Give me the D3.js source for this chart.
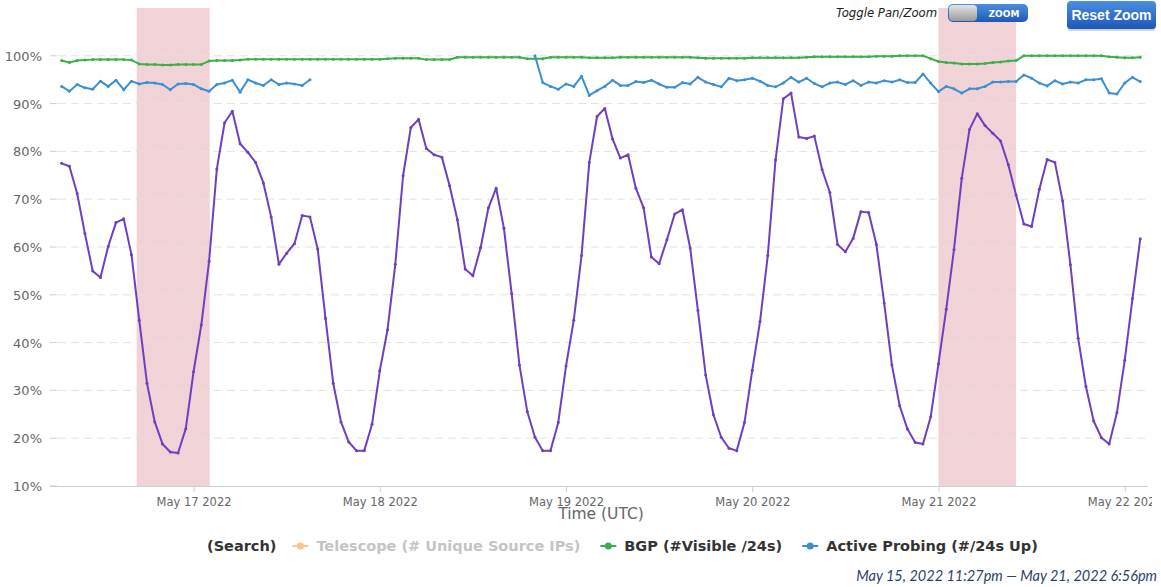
<!DOCTYPE html>
<html>
<head>
<meta charset="utf-8">
<script src="https://cdn.jsdelivr.net/npm/d3@7"></script>
<style>
  body { margin: 0; background: #fff; }
  svg { display: block; }
</style>
</head>
<body>
<div id="chart"></div>
<script>
const width = 1161;
const height = 587;

// hourly samples, first one at May 16 2022 07:00 UTC
const startTime = Date.UTC(2022, 4, 16, 7);

const searchValues = [
  77.5, 76.9, 71.2, 62.8, 55.0, 53.6, 60.1, 65.1, 65.9, 58.4,
  44.7, 31.5, 23.4, 18.8, 17.1, 16.9, 22.0, 33.9, 43.7, 57.0,
  76.3, 86.0, 88.4, 81.6, 79.8, 77.7, 73.4, 66.3, 56.4, 58.7,
  60.7, 66.6, 66.3, 59.6, 45.1, 31.5, 23.4, 19.2, 17.4, 17.4,
  22.9, 34.1, 42.7, 56.4, 74.9, 85.0, 86.7, 80.6, 79.3, 78.8,
  72.8, 65.7, 55.4, 54.0, 59.9, 68.2, 72.3, 63.9, 50.2, 35.3,
  25.6, 20.2, 17.4, 17.4, 23.3, 35.1, 44.7, 58.2, 77.7, 87.3,
  89.0, 82.6, 78.6, 79.3, 72.3, 68.2, 57.9, 56.5, 61.5, 66.9,
  67.8, 59.8, 46.7, 33.2, 24.9, 20.2, 17.9, 17.4, 23.3, 34.2,
  44.4, 58.2, 78.2, 91.0, 92.2, 83.0, 82.7, 83.2, 76.2, 71.4,
  60.5, 59.0, 61.8, 67.4, 67.2, 60.5, 48.3, 35.3, 26.8, 21.9,
  19.1, 18.8, 24.5, 35.6, 47.0, 59.5, 74.4, 84.6, 87.9, 85.4,
  83.8, 82.2, 77.2, 70.9, 64.8, 64.3, 72.1, 78.3, 77.7, 69.6,
  56.3, 40.9, 30.8, 23.6, 20.1, 18.8, 25.4, 36.3, 49.2, 61.7
];

const bgpValues = [
  99.0, 98.6, 99.0, 99.1, 99.2, 99.2, 99.2, 99.2, 99.2, 99.1,
  98.3, 98.2, 98.2, 98.1, 98.1, 98.2, 98.2, 98.2, 98.2, 98.9,
  99.0, 99.0, 99.0, 99.1, 99.3, 99.3, 99.3, 99.3, 99.3, 99.3,
  99.3, 99.3, 99.3, 99.3, 99.3, 99.3, 99.3, 99.3, 99.3, 99.3,
  99.3, 99.3, 99.4, 99.5, 99.5, 99.5, 99.5, 99.2, 99.2, 99.2,
  99.2, 99.7, 99.7, 99.7, 99.7, 99.7, 99.7, 99.7, 99.7, 99.7,
  99.4, 99.4, 99.4, 99.7, 99.7, 99.7, 99.7, 99.7, 99.6, 99.6,
  99.6, 99.6, 99.7, 99.7, 99.7, 99.7, 99.7, 99.7, 99.7, 99.7,
  99.7, 99.7, 99.6, 99.5, 99.5, 99.5, 99.5, 99.5, 99.5, 99.6,
  99.6, 99.6, 99.6, 99.6, 99.6, 99.6, 99.7, 99.8, 99.8, 99.8,
  99.8, 99.8, 99.8, 99.8, 99.8, 99.9, 99.9, 99.9, 100.0, 100.0,
  100.0, 100.0, 99.4, 98.8, 98.6, 98.5, 98.3, 98.3, 98.3, 98.4,
  98.6, 98.7, 98.9, 99.0, 100.0, 100.0, 100.0, 100.0, 100.0, 100.0,
  100.0, 100.0, 100.0, 100.0, 100.0, 99.8, 99.7, 99.6, 99.6, 99.7
];

const probingValues = [
  93.6, 92.6, 94.0, 93.3, 93.0, 94.7, 93.6, 94.9, 92.9, 94.7,
  94.1, 94.4, 94.3, 94.0, 92.9, 94.1, 94.2, 94.0, 93.1, 92.6,
  94.0, 94.3, 94.9, 92.4, 95.0, 94.3, 93.8, 95.0, 94.0, 94.3,
  94.1, 93.8, 95.0, null, null, null, null, null, null, null,
  null, null, null, null, null, null, null, null, null, null,
  null, null, null, null, null, null, null, null, null, null,
  null, 100.0, 94.4, 93.6, 93.0, 94.1, 93.6, 95.7, 91.7, 92.7,
  93.6, 94.9, 93.8, 93.8, 94.6, 94.4, 94.9, 94.1, 93.4, 93.4,
  94.4, 94.1, 95.5, 94.5, 94.0, 93.5, 95.3, 94.8, 95.0, 95.3,
  94.7, 93.8, 93.5, 94.3, 95.5, 94.5, 95.3, 94.2, 93.5, 94.3,
  94.5, 94.0, 94.8, 93.8, 94.5, 94.3, 94.8, 94.5, 95.0, 94.4,
  94.4, 96.2, 94.3, 92.5, 93.6, 93.1, 92.2, 93.1, 93.1, 93.6,
  94.5, 94.5, 94.6, 94.6, 96.0, 95.3, 94.3, 93.7, 94.8, 94.1,
  94.5, 94.3, 95.0, 95.0, 95.2, 92.2, 92.0, 94.3, 95.5, 94.6
];

// outage alert bands
const bandStarts = [Date.UTC(2022, 4, 16, 16, 40), Date.UTC(2022, 4, 21, 0, 0)];
const bandEnds = [Date.UTC(2022, 4, 17, 2, 5), Date.UTC(2022, 4, 21, 10, 0)];

const yTicks = [10, 20, 30, 40, 50, 60, 70, 80, 90, 100];
const legendItems = ["Telescope (# Unique Source IPs)", "BGP (#Visible /24s)", "Active Probing (#/24s Up)"];
const legendColors = ["#f9c48e", "#3dae49", "#3b8fd3"];

const svg = d3.select("#chart").append("svg")
  .attr("width", width)
  .attr("height", height)
  .style("font-family", "'DejaVu Sans', sans-serif");

const defs = svg.append("defs");

const x = d3.scaleUtc()
  .domain([new Date(Date.UTC(2022, 4, 16, 5, 30)), new Date(Date.UTC(2022, 4, 22, 3, 0))])
  .range([50, 1148]);

const y = d3.scaleLinear()
  .domain([10, 110])
  .range([486, 8]);

function toPoints(values) {
  return values.map((v, i) => ({ t: new Date(startTime + i * 3600000), v: v }));
}

// bands
svg.append("g").selectAll("rect")
  .data(bandStarts.map((s, i) => [s, bandEnds[i]]))
  .join("rect")
    .attr("x", d => x(d[0]))
    .attr("width", d => x(d[1]) - x(d[0]))
    .attr("y", y(110))
    .attr("height", y(10) - y(110))
    .attr("fill", "#f0d2d7");

// grid + y labels
const grid = svg.append("g");
grid.selectAll("line.grid")
  .data(yTicks.filter(d => d > 10))
  .join("line")
    .attr("class", "grid")
    .attr("x1", 58).attr("x2", 1148)
    .attr("y1", d => y(d)).attr("y2", d => y(d))
    .attr("stroke", "#e2e2e2")
    .attr("stroke-dasharray", "8,5");
grid.selectAll("line.ytick")
  .data(yTicks)
  .join("line")
    .attr("class", "ytick")
    .attr("x1", 50).attr("x2", 57)
    .attr("y1", d => y(d)).attr("y2", d => y(d))
    .attr("stroke", "#cfcfcf");
grid.selectAll("text")
  .data(yTicks)
  .join("text")
    .attr("x", 42)
    .attr("y", d => y(d) + 5)
    .attr("text-anchor", "end")
    .style("font-size", "13px")
    .style("fill", "#666")
    .text(d => d + "%");

// x axis (last label is cut by the chart edge)
defs.append("clipPath").attr("id", "axclip")
  .append("rect").attr("x", 0).attr("y", -4).attr("width", 1152).attr("height", 40);

const xAxis = svg.append("g")
  .attr("transform", `translate(0,${y(10)})`)
  .attr("clip-path", "url(#axclip)")
  .call(d3.axisBottom(x)
    .ticks(d3.utcDay.every(1))
    .tickFormat(d3.utcFormat("%b %d %Y"))
    .tickSize(6)
    .tickPadding(6));
xAxis.select(".domain").attr("stroke", "#cfcfcf").attr("d", "M50,0.5H1148");
xAxis.selectAll(".tick line").attr("stroke", "#cfcfcf");
xAxis.selectAll(".tick text")
  .style("font-family", "'DejaVu Sans', sans-serif")
  .style("font-size", "11.5px")
  .style("fill", "#666");

svg.append("text")
  .attr("x", 601)
  .attr("y", 519)
  .attr("text-anchor", "middle")
  .style("font-size", "15.5px")
  .style("fill", "#666")
  .text("Time (UTC)");

// series
const line = d3.line()
  .defined(d => d.v != null)
  .x(d => x(d.t))
  .y(d => y(d.v));

const series = [
  { values: searchValues, color: "#6e3fc1" },
  { values: bgpValues, color: "#3dae49" },
  { values: probingValues, color: "#3b8fd3" }
];

series.forEach(s => {
  const pts = toPoints(s.values);
  const g = svg.append("g");
  g.append("path")
    .datum(pts)
    .attr("fill", "none")
    .attr("stroke", s.color)
    .attr("stroke-width", 2)
    .attr("stroke-linejoin", "round")
    .attr("d", line);
  g.selectAll("circle")
    .data(pts.filter(d => d.v != null))
    .join("circle")
      .attr("cx", d => x(d.t))
      .attr("cy", d => y(d.v))
      .attr("r", 1.5)
      .attr("fill", s.color);
});

// legend
const legend = svg.append("g").attr("transform", "translate(0,546)");
let lx = 207;
const searchLabel = legend.append("text")
  .attr("x", lx).attr("y", 5)
  .style("font-size", "14.5px").style("font-weight", "bold").style("fill", "#333")
  .text("(Search)");
lx += searchLabel.node().getComputedTextLength() + 16;

legendItems.forEach((name, i) => {
  legend.append("line")
    .attr("x1", lx).attr("x2", lx + 16)
    .attr("stroke", legendColors[i]).attr("stroke-width", 2);
  legend.append("circle")
    .attr("cx", lx + 8).attr("r", 3.5)
    .attr("fill", legendColors[i]);
  const t = legend.append("text")
    .attr("x", lx + 24).attr("y", 5)
    .style("font-size", "14.5px").style("font-weight", "bold")
    .style("fill", i === 0 ? "#c4c4c4" : "#333")
    .text(name);
  lx += 24 + t.node().getComputedTextLength() + 20;
});

// pan/zoom toggle
const blueGrad = defs.append("linearGradient").attr("id", "blueGrad").attr("x1", 0).attr("x2", 0).attr("y1", 0).attr("y2", 1);
blueGrad.append("stop").attr("offset", "0%").attr("stop-color", "#4b8fe0");
blueGrad.append("stop").attr("offset", "100%").attr("stop-color", "#1d58b5");
const grayGrad = defs.append("linearGradient").attr("id", "grayGrad").attr("x1", 0).attr("x2", 0).attr("y1", 0).attr("y2", 1);
grayGrad.append("stop").attr("offset", "0%").attr("stop-color", "#e4e4e4");
grayGrad.append("stop").attr("offset", "100%").attr("stop-color", "#9a9a9a");

svg.append("text")
  .attr("x", 836).attr("y", 17)
  .style("font-size", "11.7px").style("font-style", "italic").style("fill", "#222")
  .text("Toggle Pan/Zoom");
svg.append("rect")
  .attr("x", 948).attr("y", 4).attr("width", 80).attr("height", 18).attr("rx", 5)
  .attr("fill", "url(#blueGrad)");
svg.append("rect")
  .attr("x", 949).attr("y", 5).attr("width", 28).attr("height", 16).attr("rx", 4)
  .attr("fill", "url(#grayGrad)");
svg.append("text")
  .attr("x", 1004).attr("y", 16.5).attr("text-anchor", "middle")
  .style("font-size", "9px").style("font-weight", "bold").style("fill", "#fff")
  .text("ZOOM");

svg.append("rect")
  .attr("x", 1067).attr("y", 2).attr("width", 89).attr("height", 29).attr("rx", 4)
  .attr("fill", "#c9d6e8");
svg.append("rect")
  .attr("x", 1067).attr("y", 1).attr("width", 89).attr("height", 28).attr("rx", 4)
  .attr("fill", "url(#blueGrad)");
svg.append("text")
  .attr("x", 1111.5).attr("y", 20).attr("text-anchor", "middle")
  .style("font-family", "'Liberation Sans', sans-serif")
  .style("font-size", "14px").style("font-weight", "bold").style("fill", "#fff")
  .text("Reset Zoom");

svg.append("text")
  .attr("x", 1157).attr("y", 581).attr("text-anchor", "end")
  .style("font-family", "Lato, sans-serif")
  .style("font-size", "14.5px").style("font-style", "italic").style("fill", "#2b3f6b")
  .text("May 15, 2022 11:27pm \u2014 May 21, 2022 6:56pm");
</script>
</body>
</html>
